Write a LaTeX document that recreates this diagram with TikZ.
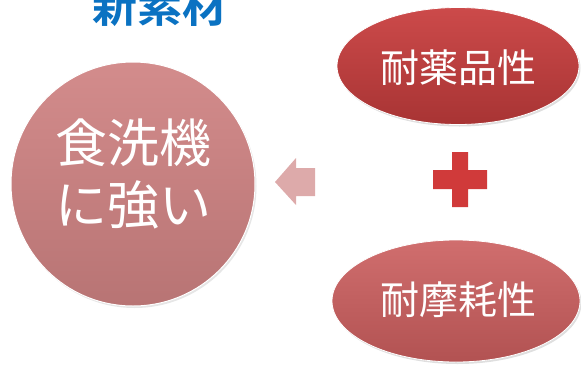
\documentclass[tikz,border=0pt]{standalone}
\usepackage{fontspec}
\newfontfamily\jp{Noto Sans CJK JP}
\newfontfamily\jpb{Noto Sans CJK JP Bold}
\usetikzlibrary{shapes.geometric,shadows}
\definecolor{circtop}{HTML}{D38C8C}
\definecolor{circbot}{HTML}{B87474}
\definecolor{ell1top}{HTML}{CC4A4A}
\definecolor{ell1bot}{HTML}{A83434}
\definecolor{ell2top}{HTML}{D06E6E}
\definecolor{ell2bot}{HTML}{B25252}
\definecolor{arrowpink}{HTML}{DDAAAA}
\definecolor{plusred}{HTML}{D03A3A}
\definecolor{titleblue}{HTML}{0A72C2}
\tikzset{
  bigtext/.style={text=white,font=\jp\fontsize{52}{62}\selectfont,align=center},
  elltext/.style={text=white,font=\jp\fontsize{39}{46}\selectfont},
  ellbase/.style={ellipse,minimum width=242pt,minimum height=117pt,inner sep=0pt,draw=white,line width=0.8pt,
    drop shadow={shadow xshift=1.5pt,shadow yshift=-2pt,opacity=0.25}},
}
\begin{document}
\begin{tikzpicture}[x=1pt,y=-1pt]
\useasboundingbox (0,0) rectangle (581,367);
\clip (0,0) rectangle (581,367);
% title (cut off at top, as in the reference)
\node[anchor=base,text=titleblue,font=\jpb\fontsize{45}{50}\selectfont,inner sep=0pt] (title) at (160,22) {新素材};
% big circle
\node[circle,minimum size=244pt,inner sep=0pt,top color=circtop,bottom color=circbot,draw=white,line width=1pt,
  drop shadow={shadow xshift=1.5pt,shadow yshift=-2pt,opacity=0.2}] (main) at (133,184) {};
\node[bigtext] (maintxt) at (133,174) {食洗機\\に強い};
% ellipses
\node[ellbase,top color=ell1top,bottom color=ell1bot] (chem) at (458,66) {};
\node[elltext] (chemtxt) at (458,68) {耐薬品性};
\node[ellbase,minimum width=248pt,minimum height=122pt,top color=ell2top,bottom color=ell2bot] (wear) at (456,301) {};
\node[elltext] (weartxt) at (458,300) {耐摩耗性};
% arrow
\fill[arrowpink] (275,182) -- (296,158) -- (296,168) -- (315,168) -- (315,196) -- (296,196) -- (296,205) -- cycle;
% plus
\fill[plusred] (452,152) -- (468,152) -- (468,170) -- (487,170) -- (487,189) -- (468,189) -- (468,207) -- (452,207) -- (452,189) -- (433,189) -- (433,170) -- (452,170) -- cycle;
\end{tikzpicture}
\end{document}
